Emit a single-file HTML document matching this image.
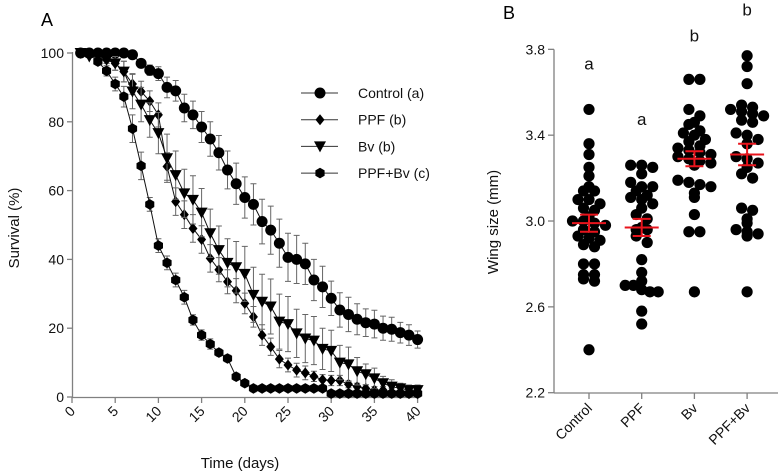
<!DOCTYPE html>
<html><head><meta charset="utf-8"><style>
html,body{margin:0;padding:0;background:#fff;}
svg{display:block;font-family:"Liberation Sans",Arial,sans-serif;}
</style></head><body>
<svg id="fig" width="784" height="476" viewBox="0 0 784 476"></svg>
<script>
// ---------- Panel A data ----------
const days = [1,2,3,4,5,6,7,8,9,10,11,12,13,14,15,16,17,18,19,20,21,22,23,24,25,26,27,28,29,30,31,32,33,34,35,36,37,38,39,40];
const controlSurv = [100,100,100,100,100,100,99.5,97,95,94,90,89,84,82,78.5,75,71,66,62,58,56,51,48.5,44.7,40.6,40,38.7,34,32,28.7,25.3,24,22.6,21.6,21.2,20,19.7,18.7,18,16.7];
const ppfSurv = [100,100,99,98,97,94.6,91,88.8,86,82,67,56.8,53,49,45.8,40.3,37,33.5,30.9,27.2,23.3,18,14.6,11,9.3,7.8,7,6,5,4.8,4.8,3.7,3,2.5,2,2,1.5,1.5,1,1];
const bvSurv = [100,99,99,98,97,94.6,88.8,85,80.5,76.7,69.4,64.5,59.2,57.3,53.6,47.6,42.7,39,37.7,35.8,29.7,27.7,26.3,21.9,21.2,18.5,17,16.4,14,13.4,10,9.5,7.5,6.6,5.4,4,3,2.5,2,2];
const ppfBvSurv = [100,99.6,97.5,94.8,91,87.3,78,67.2,56,44,39,34,29,22.4,18,15.4,12.9,11.2,5.9,4,2.5,2.5,2.5,2.5,2.5,2.5,2.5,2.5,2.5,1,1,1,1,1,1,1,1,1,1,1];
const controlErr = [0,0,0,0,0,0,0.5,1,1.5,2,3,3,4,4,4.5,5,5,5.5,6,6,6,6.5,7,7,7,7,6,6,6,5,5,5,4.5,4,4,3.5,3.5,3,3,2.5];
const ppfErr = [0,0,0.5,1,2,3,3,3,3,3.5,4,4,4,4,4,4,3.5,3.5,3.5,3,3,3,2.5,2.5,2,2,2,1.5,1.5,1.5,1.5,1,1,1,1,1,1,1,1,1];
const bvErr = [0,0,0.5,1,2,3,5,5,5,6,7,7,7,7,7,7,7,7,7.5,8,8,8,8,8,8,7,7,7,6,6,5,5,4,3,3,2,2,1.5,1.5,1.5];
const ppfBvErr = [0,0,1,1.5,2,3,4,4,2,2,2,2,2,1.5,1.5,1.5,1,1,1,1,1,0.5,0.5,0.5,0.5,0.5,0.5,0.5,0.5,0.5,0.5,0.5,0.5,0.5,0.5,0.5,0.5,0.5,0.5,0.5];
const xTicksA = [0,5,10,15,20,25,30,35,40];
const yTicksA = [0,20,40,60,80,100];
const legendLabels = ["Control (a)","PPF (b)","Bv (b)","PPF+Bv (c)"];

// ---------- Panel B data ----------
const groups = ["Control","PPF","Bv","PPF+Bv"];
const controlWing = [3.52,3.36,3.31,3.25,3.21,3.16,3.14,3.14,3.10,3.10,3.08,3.06,3.05,3.02,3.00,3.00,2.99,2.98,2.96,2.95,2.93,2.92,2.91,2.89,2.88,2.80,2.80,2.75,2.75,2.73,2.72,2.40];
const ppfWing = [3.26,3.26,3.25,3.22,3.18,3.16,3.16,3.14,3.12,3.11,3.10,3.08,3.06,3.03,3.01,2.97,2.96,2.96,2.93,2.90,2.82,2.76,2.72,2.70,2.70,2.68,2.67,2.67,2.58,2.52];
const bvWing = [3.66,3.66,3.52,3.49,3.46,3.45,3.42,3.41,3.40,3.38,3.37,3.35,3.34,3.33,3.32,3.31,3.30,3.29,3.28,3.27,3.26,3.19,3.18,3.17,3.16,3.13,3.11,3.03,2.95,2.95,2.67];
const ppfBvWing = [3.77,3.72,3.64,3.54,3.53,3.52,3.51,3.50,3.49,3.47,3.46,3.41,3.40,3.38,3.36,3.30,3.29,3.27,3.25,3.22,3.20,3.06,3.05,3.01,2.99,2.96,2.95,2.94,2.93,2.67];
const groupMeans = [2.99,2.97,3.29,3.31];
const groupSem = [0.04,0.04,0.035,0.05];
const sigLetters = ["a","a","b","b"];
const sigLetterVals = [3.73,3.47,3.86,3.98];
const yTicksB = [2.2,2.6,3.0,3.4,3.8];

const NS="http://www.w3.org/2000/svg";
const svg=document.getElementById('fig');
function el(tag,attrs,parent){const e=document.createElementNS(NS,tag);for(const k in attrs)e.setAttribute(k,attrs[k]);(parent||svg).appendChild(e);return e;}
function txt(s,attrs,parent){const e=el('text',attrs,parent);e.textContent=s;return e;}

// ---------- Panel A ----------
const xA=d=>72+d*8.64;
const yA=v=>397-v*3.44;
const AX='#808080';
const gA=el('g',{});


let t=txt('A',{x:41,y:26,'font-size':18},gA);

let ax=el('line',{x1:72.5,y1:52,x2:72.5,y2:397.5,stroke:AX,'stroke-width':1.3},gA);

ax=el('line',{x1:72,y1:397.5,x2:xA(40)+1,y2:397.5,stroke:AX,'stroke-width':1.3},gA);

yTicksA.forEach(v=>{
  const y=yA(v);
  el('line',{x1:67,y1:y,x2:72.5,y2:y,stroke:AX,'stroke-width':1.3},gA);
  const l=txt(String(v),{x:64,y:y+5,'font-size':14,'text-anchor':'end',fill:'#111'},gA);
  
});
xTicksA.forEach(v=>{
  const x=xA(v);
  el('line',{x1:x,y1:397.5,x2:x,y2:403,stroke:AX,'stroke-width':1.3},gA);
  const l=txt(String(v),{x:x+4,y:412,'font-size':14,'text-anchor':'end',fill:'#111',transform:`rotate(-45 ${x+4} 412)`},gA);
  
});
t=txt('Time (days)',{x:240,y:468,'font-size':15,'text-anchor':'middle',fill:'#111'},gA);

t=txt('Survival (%)',{x:0,y:0,'font-size':15,'text-anchor':'middle',fill:'#111',transform:'translate(19 228) rotate(-90)'},gA);


function marker(type,x,y,parent){
  if(type==='circle') return el('circle',{cx:x,cy:y,r:5.5,fill:'#000'},parent);
  if(type==='diamond') return el('polygon',{points:`${x},${y-5.5} ${x+4.5},${y} ${x},${y+5.5} ${x-4.5},${y}`,fill:'#000'},parent);
  if(type==='triangle') return el('polygon',{points:`${x-6},${y-5} ${x+6},${y-5} ${x},${y+6}`,fill:'#000'},parent);
  const r=5.3,p=[];for(let i=0;i<6;i++){const a=Math.PI/6+i*Math.PI/3;p.push((x+r*Math.cos(a)).toFixed(1)+','+(y+r*Math.sin(a)).toFixed(1));}
  return el('polygon',{points:p.join(' '),fill:'#000'},parent);
}
const series=[
  {name:'control',vals:controlSurv,err:controlErr,m:'circle'},
  {name:'ppf',vals:ppfSurv,err:ppfErr,m:'diamond'},
  {name:'bv',vals:bvSurv,err:bvErr,m:'triangle'},
  {name:'ppf-bv',vals:ppfBvSurv,err:ppfBvErr,m:'hexagon'}];
series.forEach(s=>{
  const g=el('g',{},gA);
  
  
  s.vals.forEach((v,i)=>{
    const x=xA(days[i]),e=s.err[i];
    if(e>0){
      const y1=yA(Math.min(100,v+e)),y2=yA(Math.max(0,v-e));
      const eb=el('path',{d:`M${x},${y1}V${y2}M${x-3},${y1}H${x+3}M${x-3},${y2}H${x+3}`,stroke:'#666','stroke-width':1,fill:'none'},g);
      
    }
  });
  const ln=el('polyline',{points:s.vals.map((v,i)=>xA(days[i])+','+yA(v)).join(' '),fill:'none',stroke:'#111','stroke-width':1},g);
  
  s.vals.forEach((v,i)=>{
    const mk=marker(s.m,xA(days[i]),yA(v),g);
    
  });
});
// legend
const gL=el('g',{},gA);

legendLabels.forEach((lab,i)=>{
  const y=93+i*26.7;
  const g=el('g',{},gL);
  
  el('line',{x1:301,y1:y,x2:338,y2:y,stroke:'#333','stroke-width':1},g);
  marker(series[i].m,320,y,g);
  txt(lab,{x:358,y:y+5,'font-size':14,fill:'#111'},g);
});

// ---------- Panel B ----------
const yB=v=>392.7-(v-2.2)*214.6;
const xB=i=>589+i*52.7;
const gB=el('g',{});

t=txt('B',{x:503,y:19,'font-size':18},gB);

ax=el('line',{x1:554,y1:yB(3.8),x2:554,y2:393,stroke:AX,'stroke-width':1.3},gB);

ax=el('line',{x1:554,y1:393,x2:778,y2:393,stroke:AX,'stroke-width':1.3},gB);

yTicksB.forEach(v=>{
  const y=yB(v);
  el('line',{x1:548,y1:y,x2:554,y2:y,stroke:AX,'stroke-width':1.3},gB);
  const l=txt(v.toFixed(1),{x:545,y:y+5,'font-size':14,'text-anchor':'end',fill:'#111'},gB);
  
});
t=txt('Wing size (mm)',{x:0,y:0,'font-size':15,'text-anchor':'middle',fill:'#111',transform:'translate(498 222) rotate(-90)'},gB);

const wingData=[controlWing,ppfWing,bvWing,ppfBvWing];
const R=5.6, BIN=8, SP=11, MAXW=33;
groups.forEach((gname,gi)=>{
  const cx=xB(gi);
  el('line',{x1:cx,y1:393,x2:cx,y2:399,stroke:AX,'stroke-width':1.3},gB);
  const l=txt(gname,{x:cx+4,y:409,'font-size':14,'text-anchor':'end',fill:'#111',transform:`rotate(-45 ${cx+4} 409)`},gB);
  
  const g=el('g',{},gB);
  
  
  const bins={};
  wingData[gi].forEach(v=>{const b=Math.round(yB(v)/BIN);(bins[b]=bins[b]||[]).push(v);});
  Object.keys(bins).forEach(b=>{
    const arr=bins[b],n=arr.length;
    const sp=n>1?Math.min(SP,MAXW/(n-1)):0;
    arr.forEach((v,k)=>{
      const off=(k-(n-1)/2)*sp;
      const d=el('circle',{cx:cx+off,cy:yB(v),r:R,fill:'#000'},g);
      
    });
  });
  const m=groupMeans[gi],s=groupSem[gi];
  const mg=el('g',{},gB);
  
  el('path',{d:`M${cx-17},${yB(m)}H${cx+17}M${cx},${yB(m+s)}V${yB(m-s)}M${cx-9},${yB(m+s)}H${cx+9}M${cx-9},${yB(m-s)}H${cx+9}`,stroke:'#e8141c','stroke-width':2,fill:'none'},mg);
  const sl=txt(sigLetters[gi],{x:cx,y:yB(sigLetterVals[gi])+5,'font-size':17,'text-anchor':'middle',fill:'#111'},gB);
  
});
</script>
</body></html>
